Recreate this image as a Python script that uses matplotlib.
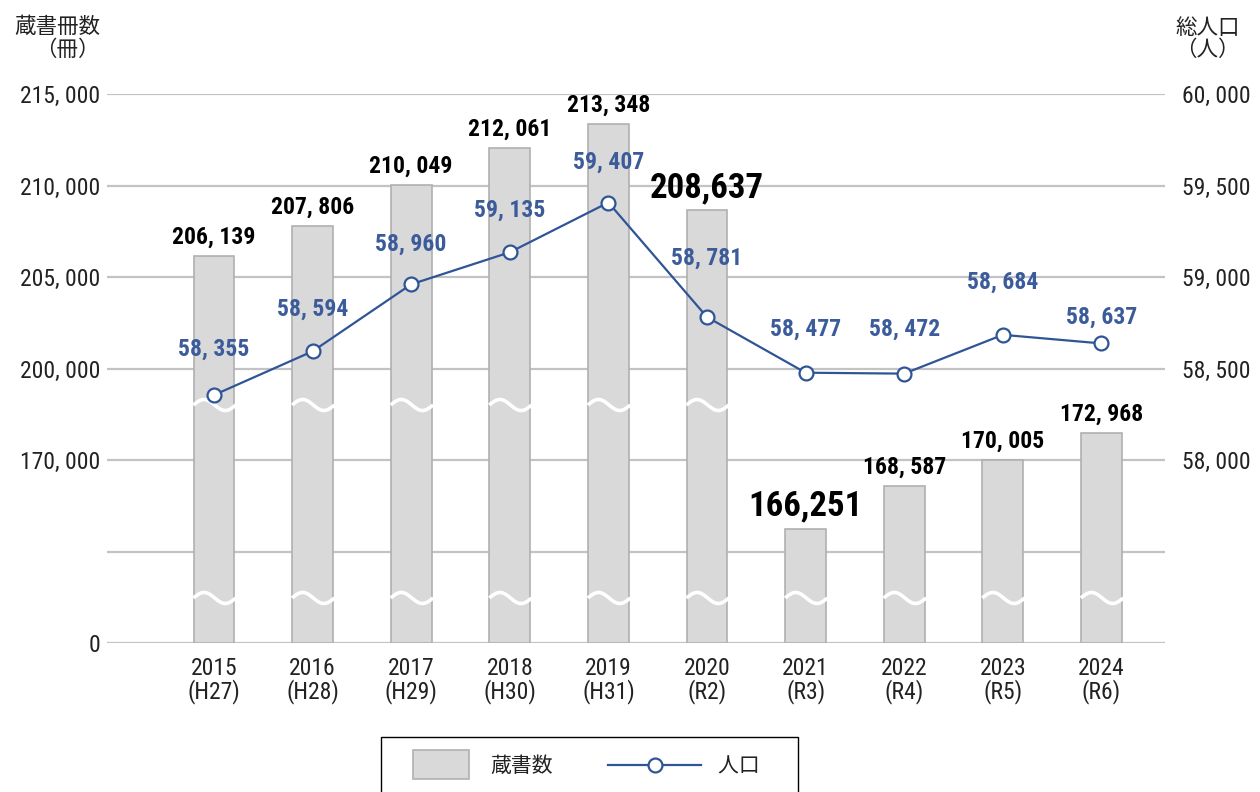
import numpy as np
import matplotlib
matplotlib.use('Agg')
import matplotlib.pyplot as plt
from matplotlib import font_manager
from matplotlib.transforms import blended_transform_factory
from matplotlib.patches import Rectangle
from matplotlib.lines import Line2D

# data
years = ['2015', '2016', '2017', '2018', '2019', '2020', '2021', '2022', '2023', '2024']
eras = ['H27', 'H28', 'H29', 'H30', 'H31', 'R2', 'R3', 'R4', 'R5', 'R6']
books = [206139, 207806, 210049, 212061, 213348, 208637, 166251, 168587, 170005, 172968]
population = [58355, 58594, 58960, 59135, 59407, 58781, 58477, 58472, 58684, 58637]
big_labels = ['2020', '2021']
left_ticks = [0, 165000, 170000, 200000, 205000, 210000, 215000]
left_shown = [0, 170000, 200000, 205000, 210000, 215000]
right_ticks = [58000, 58500, 59000, 59500, 60000]

# fonts
names = {f.name for f in font_manager.fontManager.ttflist}
num_font = next((n for n in ['Liberation Sans Narrow', 'Roboto Condensed', 'Roboto']
                 if n in names), 'DejaVu Sans')
JP = 'Noto Sans CJK JP'
plt.rcParams['font.family'] = [num_font, JP, 'DejaVu Sans']

TEXT = '#222222'
BLUE = '#2F5597'
LBLUE = '#3B5B9A'
BAR = '#d9d9d9'
BAR_EDGE = '#b0b0b0'

# broken left axis: piecewise linear scale
VALS = [0, 165000, 170000, 176000, 200000, 215000]
UNITS = [0, 1, 2, 2.6, 3, 6]


def fwd(v):
    return np.interp(v, VALS, UNITS)


def inv(u):
    return np.interp(u, UNITS, VALS)


def fmt(v):
    return f'{v:,}'.replace(',', ', ')


fig = plt.figure(figsize=(12.6, 7.92), dpi=100)
ax = fig.add_axes([107 / 1260, 1 - 643 / 792, 1058 / 1260, 549 / 792])
ax.set_yscale('function', functions=(fwd, inv))
ax.set_ylim(0, 215000)
x = np.arange(len(years))
ax.set_xlim(-1.085, 9.645)

ax.bar(x, books, width=0.415, color=BAR, edgecolor=BAR_EDGE, linewidth=1.2, zorder=2)

ax.set_yticks(left_ticks)
ax.set_yticklabels([fmt(t) if t in left_shown else '' for t in left_ticks])
ax.grid(axis='y', color='#c3c3c3', linewidth=1.6, zorder=0)
ax.set_axisbelow(True)
for s in ax.spines.values():
    s.set_visible(False)
ax.tick_params(axis='y', length=0, pad=5, labelsize=17, labelcolor=TEXT)
ax.set_xticks(x)
ax.set_xticklabels([f'{y}\n({e})' for y, e in zip(years, eras)], linespacing=0.95)
ax.tick_params(axis='x', length=0, pad=10, labelsize=17, labelcolor=TEXT)

# break marks on bars
trans = blended_transform_factory(ax.transData, ax.transAxes)
breaks = [0.082, 0.4335]
tw = np.linspace(0, 1, 80)
for xi, v in zip(x, books):
    top = fwd(v) / 6
    for b in breaks:
        if top > b + 0.02:
            ax.plot(xi - 0.208 + 0.43 * tw, b + 0.01 * np.sin(2 * np.pi * tw),
                    color='white', lw=2.6, transform=trans, zorder=3,
                    solid_capstyle='butt')

# bar labels
for xi, y, v in zip(x, years, books):
    if y in big_labels:
        ax.annotate(f'{v:,}', (xi, v), xytext=(0, 16), textcoords='offset points',
                    ha='center', va='center', fontsize=25, fontweight='bold',
                    color='black', zorder=5)
    else:
        ax.annotate(fmt(v), (xi, v), xytext=(0, 13.5), textcoords='offset points',
                    ha='center', va='center', fontsize=17, fontweight='bold',
                    color='black', zorder=5)

# population line
ax2 = ax.twinx()
ax2.set_ylim(57000, 60000)
ax2.plot(x, population, color=BLUE, lw=1.6, marker='o', markersize=10,
         markerfacecolor='white', markeredgecolor=BLUE, markeredgewidth=1.6, zorder=4)
ax2.set_yticks(right_ticks)
ax2.set_yticklabels([fmt(t) for t in right_ticks])
ax2.tick_params(axis='y', length=0, pad=12, labelsize=17, labelcolor=TEXT)
for s in ax2.spines.values():
    s.set_visible(False)

pop_offsets = [33, 30, 29, 30, 29, 42, 31, 32, 38, 19]
for xi, v, off in zip(x, population, pop_offsets):
    ax2.annotate(fmt(v), (xi, v), xytext=(0, off), textcoords='offset points',
                 ha='center', va='center', fontsize=17, fontweight='bold', color=LBLUE)

# axis titles
jp_font = [JP, 'DejaVu Sans']
fig.text(100 / 1260, 1 - 27 / 792, '蔵書冊数', ha='right', va='center', fontsize=15.5,
         family=jp_font, color=TEXT)
fig.text(100 / 1260, 1 - 50 / 792, '（冊）', ha='right', va='center', fontsize=15.5,
         family=jp_font, color=TEXT)
fig.text(1240 / 1260, 1 - 28 / 792, '総人口', ha='right', va='center', fontsize=15.5,
         family=jp_font, color=TEXT)
fig.text(1240 / 1260, 1 - 50 / 792, '（人）', ha='right', va='center', fontsize=15.5,
         family=jp_font, color=TEXT)


# legend handlers (sizes in points, handle box is 92 px wide)
class BarHandler:
    def legend_artist(self, legend, orig_handle, fontsize, handlebox):
        h = 21
        r = Rectangle((10, handlebox.height / 2 - h / 2), 40.3, h,
                      facecolor=BAR, edgecolor=BAR_EDGE, linewidth=1.2,
                      transform=handlebox.get_transform())
        handlebox.add_artist(r)
        return r


class LineHandler:
    def legend_artist(self, legend, orig_handle, fontsize, handlebox):
        yc = handlebox.height / 2
        x0, x1 = -12.5, 54
        ln = Line2D([x0, x1], [yc, yc], color=BLUE, lw=1.6,
                    transform=handlebox.get_transform())
        mk = Line2D([(x0 + x1) / 2], [yc], marker='o', markersize=10, color=BLUE,
                    markerfacecolor='white', markeredgewidth=1.6,
                    transform=handlebox.get_transform())
        handlebox.add_artist(ln)
        handlebox.add_artist(mk)
        return ln


bar_handle = Rectangle((0, 0), 1, 1)
line_handle = Line2D([], [])
leg = fig.legend([bar_handle, line_handle], ['蔵書数', '人口\u3000'], ncol=2,
                 loc='upper center', bbox_to_anchor=(589.5 / 1260, 1 - 737 / 792),
                 borderaxespad=0,
                 handler_map={bar_handle: BarHandler(), line_handle: LineHandler()},
                 prop={'family': jp_font, 'size': 15},
                 handlelength=4.41, handletextpad=0.0, columnspacing=3.48,
                 borderpad=0.87, fancybox=False, framealpha=1, edgecolor='black')
leg.get_frame().set_linewidth(1.0)
for t in leg.get_texts():
    t.set_color(TEXT)

fig.savefig('out.png', dpi=100)
